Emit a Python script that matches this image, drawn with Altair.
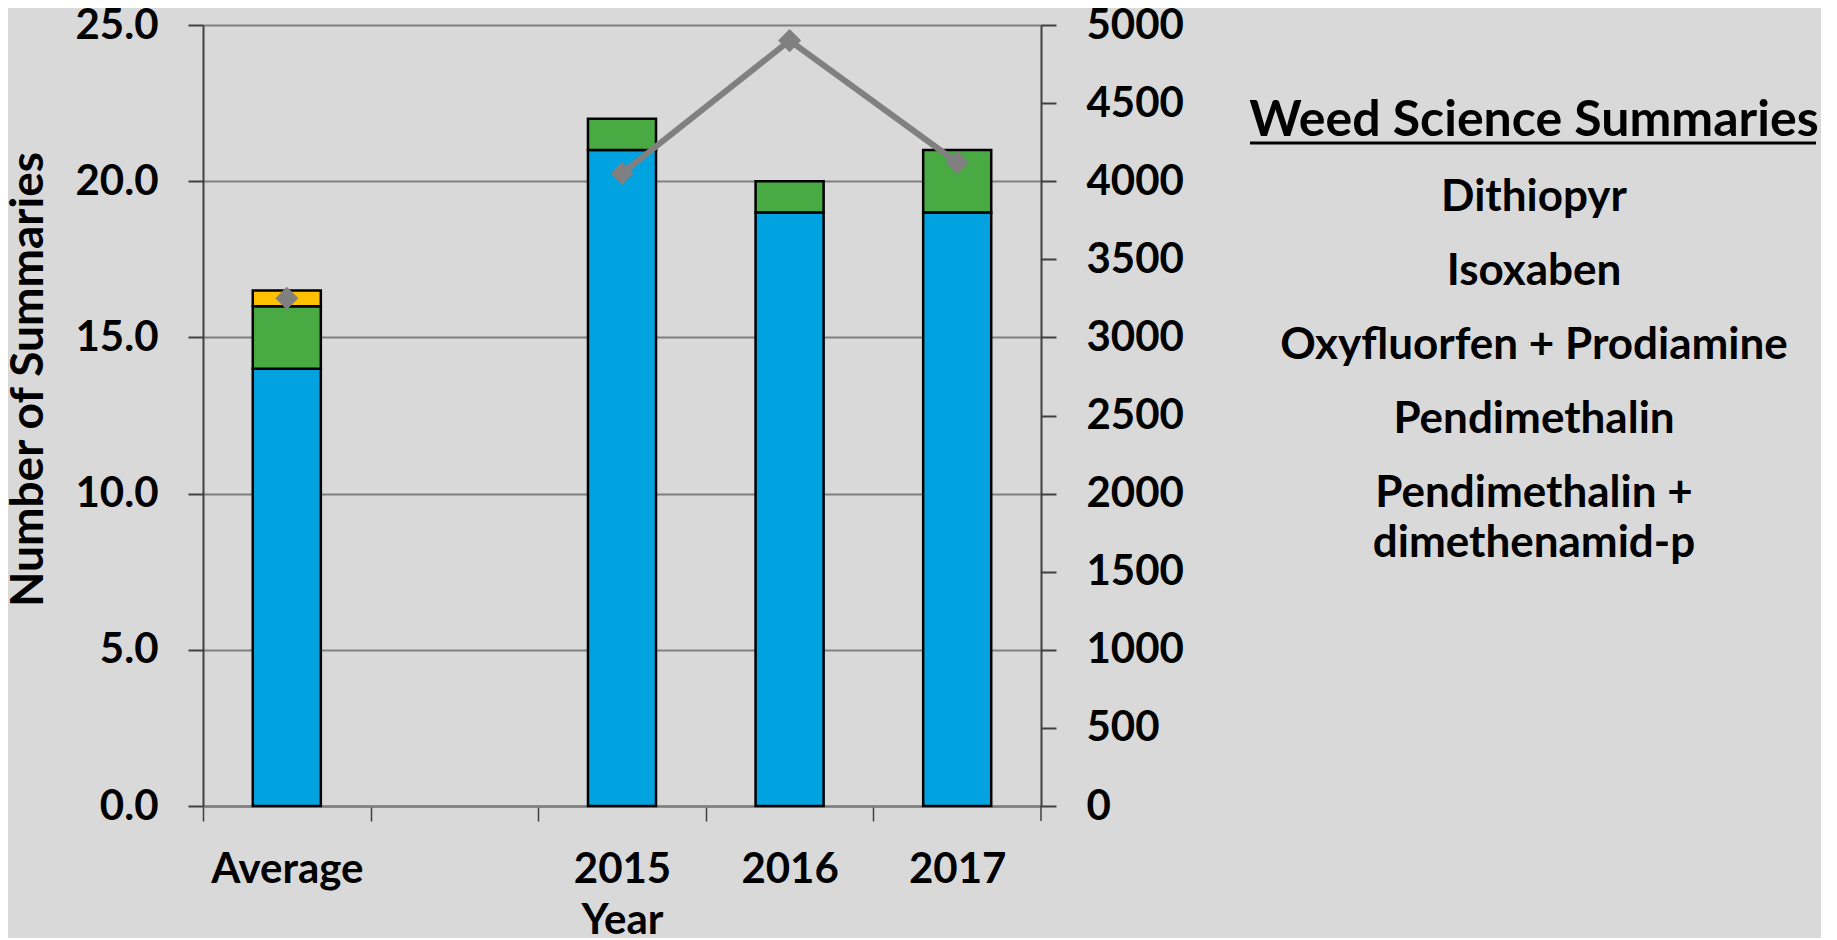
import altair as alt
import pandas as pd

# ---- data ----
CATEGORIES = ["Average", " ", "2015", "2016", "2017"]
BAR_CATS = ["Average", "2015", "2016", "2017"]
BLUE_VALUES = [14, 21, 19, 19]
GREEN_VALUES = [2, 1, 1, 2]
YELLOW_VALUES = [0.5, 0, 0, 0]
SERIES = ["blue", "green", "yellow"]
SERIES_COLORS = ["#00A3E0", "#49A942", "#FFC000"]

LINE_CATS = ["Average", "2015", "2016", "2017"]
LINE_VALUES = [3250, 4050, 4900, 4120]
LINE_DRAWN = ["2015", "2016", "2017"]

LEFT_TICKS = [0, 5, 10, 15, 20, 25]
RIGHT_TICKS = list(range(0, 5001, 500))

LEGEND_TITLE = "Weed Science Summaries"
LEGEND_ITEMS = ["Dithiopyr", "Isoxaben", "Oxyfluorfen + Prodiamine",
                "Pendimethalin", "Pendimethalin +\ndimethenamid-p"]

FONT = "Lato"
FS = 42
W, H = 838, 781
STEP = W / len(CATEGORIES)

rows = []
for ser, vals in zip(SERIES, [BLUE_VALUES, GREEN_VALUES, YELLOW_VALUES]):
    for c, v in zip(BAR_CATS, vals):
        if v > 0:
            rows.append({"cat": c, "series": ser, "value": v, "ord": SERIES.index(ser)})
bars_df = pd.DataFrame(rows)
line_df = pd.DataFrame({"cat": LINE_CATS, "n": LINE_VALUES})

xscale = alt.Scale(domain=CATEGORIES, paddingInner=0.594, paddingOuter=0.297)
xaxis = alt.Axis(tickOffset=-STEP / 2, labelOffset=STEP / 2, tickSize=15, tickColor="#404040",
                 tickWidth=1.5, domainColor="#808080", domainWidth=2.5, labelAngle=0,
                 labelPadding=28, labelFont=FONT, labelFontSize=FS, labelFontWeight="bold",
                 labelColor="black", title="Year", titleFont=FONT, titleFontSize=FS,
                 titleFontWeight="bold", titleColor="black", titlePadding=10)

bars = alt.Chart(bars_df).mark_bar(stroke="black", strokeWidth=2.5).encode(
    x=alt.X("cat:N", scale=xscale, axis=xaxis, sort=CATEGORIES),
    y=alt.Y("value:Q", stack="zero", scale=alt.Scale(domain=[0, 25], nice=False),
            axis=alt.Axis(values=LEFT_TICKS, format=".1f", grid=True, gridColor="#808080",
                          gridWidth=2, tickSize=15, tickColor="#404040", tickWidth=2,
                          domainColor="#404040", domainWidth=2, labelPadding=30,
                          labelFont=FONT, labelFontSize=FS, labelFontWeight="bold",
                          labelColor="black", title="Number of Summaries",
                          titleFont=FONT, titleFontSize=46, titleFontWeight="bold",
                          titleColor="black", titleY=354, titlePadding=22)),
    color=alt.Color("series:N", scale=alt.Scale(domain=SERIES, range=SERIES_COLORS), legend=None),
    order=alt.Order("ord:Q"),
)

right_y = alt.Y("n:Q", scale=alt.Scale(domain=[0, 5000], nice=False),
                axis=alt.Axis(orient="right", values=RIGHT_TICKS, format="d", grid=False,
                              tickSize=15, tickColor="#404040", tickWidth=2,
                              domainColor="#404040", domainWidth=2, labelPadding=30,
                              labelFont=FONT, labelFontSize=FS, labelFontWeight="bold",
                              labelColor="black", title=None))

line = alt.Chart(line_df).transform_filter(
    alt.FieldOneOfPredicate(field="cat", oneOf=LINE_DRAWN)
).mark_line(color="#808080", strokeWidth=6).encode(
    x=alt.X("cat:N", scale=xscale, sort=CATEGORIES), y=right_y)
points = alt.Chart(line_df).mark_point(shape="diamond", filled=True, size=530,
                                       color="#808080", opacity=1).encode(
    x=alt.X("cat:N", scale=xscale, sort=CATEGORIES), y=right_y)
line_layer = alt.layer(line, points)

# last category-boundary tick at the right edge of the x axis
end_tick = alt.Chart(pd.DataFrame({"k": [0]})).mark_rule(color="#404040", strokeWidth=1.5).encode(
    x=alt.value(W), y=alt.value(H), y2=alt.value(H + 15))

# legend-like text block on the right
LX = 1331
texts = [alt.Chart(pd.DataFrame({"label": [LEGEND_TITLE]})).mark_text(
    font=FONT, fontSize=50, fontWeight="bold", color="black", align="center",
    baseline="alphabetic").encode(text="label:N", x=alt.value(LX), y=alt.value(111))]
underline = alt.Chart(pd.DataFrame({"label": [LEGEND_TITLE]})).mark_rule(
    color="black", strokeWidth=3).encode(x=alt.value(1047), x2=alt.value(1613), y=alt.value(118))
base_y = 186
for i, item in enumerate(LEGEND_ITEMS):
    texts.append(alt.Chart(pd.DataFrame({"label": [item]})).mark_text(
        font=FONT, fontSize=44, fontWeight="bold", color="black", align="center",
        baseline="alphabetic", lineBreak="\n", lineHeight=50).encode(
        text="label:N", x=alt.value(LX), y=alt.value(base_y + i * 74)))

chart = alt.layer(bars, line_layer, end_tick, underline, *texts).resolve_scale(y="independent").properties(
    width=W, height=H,
    padding={"left": 195, "top": 17, "right": 780, "bottom": 132},
    autosize=alt.AutoSizeParams(type="none"),
).configure(background="#d9d9d9").configure_view(stroke=None)

chart.save("out.html", embed_options={"renderer": "svg", "actions": False})
